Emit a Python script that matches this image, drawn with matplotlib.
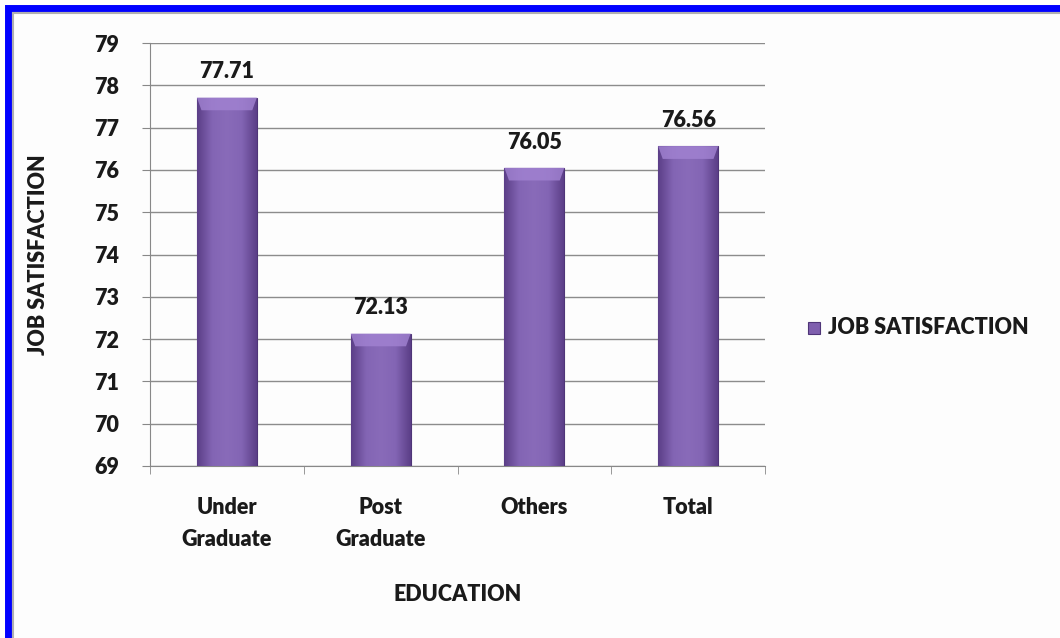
import numpy as np
import matplotlib.pyplot as plt
from matplotlib.patches import Rectangle, Polygon
from matplotlib.colors import LinearSegmentedColormap

plt.rcParams['font.family'] = ['Lato', 'DejaVu Sans']
plt.rcParams['font.weight'] = 'heavy'

categories = ['Under\nGraduate', 'Post\nGraduate', 'Others', 'Total']
values = [77.71, 72.13, 76.05, 76.56]
series_name = 'JOB SATISFACTION'
yticks = list(range(69, 80))

FS = 15.5
TXT = '#1a1a1a'
W = 'heavy'

fig = plt.figure(figsize=(10.6, 6.38), dpi=100)
fig.patch.set_facecolor('#fdfdfd')

# blue frame (only top and left edges visible in the source image)
fig.patches.append(Rectangle((8 / 1060, -0.1), 1.2, (630 + 64) / 638, transform=fig.transFigure,
                             facecolor='none', edgecolor='#0000ff', linewidth=5, zorder=0))
fig.patches.append(Rectangle((13 / 1060, -0.1), 1.2, (625 + 64) / 638, transform=fig.transFigure,
                             facecolor='none', edgecolor='#b0b0b0', linewidth=1.5, zorder=0))

ax = fig.add_axes([150 / 1060, 1 - 466 / 638, 615 / 1060, (466 - 43) / 638])
ax.set_facecolor('none')

x = np.arange(len(categories))
width = 0.39
ymin = 69
bars = ax.bar(x, np.array(values) - ymin, width, bottom=ymin, color='#7f5fae',
              edgecolor='#4f3578', linewidth=0.8, zorder=3)

# horizontal shading to mimic the bevelled bars
cmap = LinearSegmentedColormap.from_list('bev', ['#5c3f88', '#8365b4', '#896bb9', '#8365b4', '#5c3f88'])
grad = np.linspace(0, 1, 64).reshape(1, -1)
for b, v in zip(bars, values):
    x0 = b.get_x()
    im = ax.imshow(grad, cmap=cmap, aspect='auto', extent=(x0, x0 + width, ymin, v),
                   zorder=3.5, interpolation='bicubic')
    im.set_clip_path(b)
    bev = 0.03
    ax.add_patch(Polygon([(x0, v), (x0 + width, v), (x0 + width - bev, v - 0.3), (x0 + bev, v - 0.3)],
                         closed=True, facecolor='#a283d2', edgecolor='none', alpha=0.8, zorder=3.6))
    ax.text(x0 + width / 2, v + 0.36, f'{v:.2f}', ha='center', va='bottom',
            fontsize=FS, fontweight=W, color=TXT)

ax.set_xlim(-0.5, len(categories) - 0.5)
ax.set_ylim(69, 79)
ax.set_yticks(yticks)
ax.set_yticklabels([str(t) for t in yticks], fontsize=FS, fontweight=W, color=TXT)
ax.set_xticks(x)
ax.set_xticklabels(categories, fontsize=FS, fontweight=W, color=TXT, linespacing=1.65)
ax.set_xticks(np.arange(-0.5, len(categories)), minor=True)
ax.tick_params(axis='x', which='major', length=0, pad=22)
ax.tick_params(axis='x', which='minor', length=6, color='#888888')
ax.tick_params(axis='y', length=6, color='#888888', pad=16)

ax.grid(axis='y', color='#8c8c8c', linewidth=1, zorder=0)
ax.set_axisbelow(True)
for s in ['top', 'right']:
    ax.spines[s].set_visible(False)
for s in ['left', 'bottom']:
    ax.spines[s].set_color('#888888')

ax.set_ylabel('JOB SATISFACTION', fontsize=FS, fontweight=W, color=TXT, labelpad=33)
ax.set_xlabel('EDUCATION', fontsize=FS, fontweight=W, color=TXT, labelpad=25)

# legend
fig.patches.append(Rectangle((808 / 1060, 1 - 334 / 638), 12 / 1060, 12 / 638, transform=fig.transFigure,
                             facecolor='#7f5fae', edgecolor='#4f3578', linewidth=0.8))
fig.text(828 / 1060, 1 - 328 / 638, series_name, fontsize=FS, fontweight=W,
         color=TXT, va='center', ha='left')

fig.savefig('out.png', dpi=100, facecolor=fig.get_facecolor())
